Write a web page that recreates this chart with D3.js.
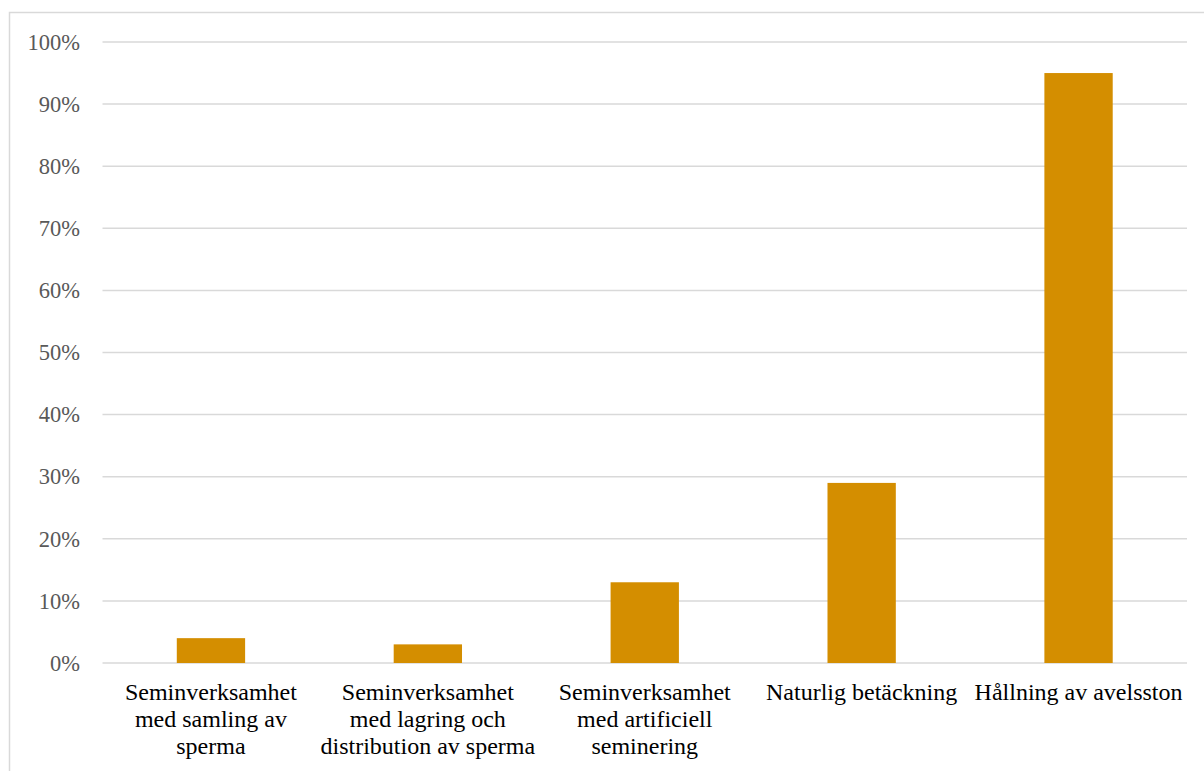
<!DOCTYPE html>
<html><head><meta charset="utf-8">
<script src="https://cdn.jsdelivr.net/npm/d3@7"></script>
<style>html,body{margin:0;padding:0;background:#fff;overflow:hidden}
svg text{font-family:"Liberation Serif","Times New Roman",Tinos,"DejaVu Serif",serif !important}</style>
</head><body>
<svg id="chart" width="1204" height="771"></svg>
<script>
const categories = [
  ["Seminverksamhet", "med samling av", "sperma"],
  ["Seminverksamhet", "med lagring och", "distribution av sperma"],
  ["Seminverksamhet", "med artificiell", "seminering"],
  ["Naturlig betäckning"],
  ["Hållning av avelsston"]
];
const values = [0.04, 0.03, 0.13, 0.29, 0.95];
const tickValues = [0, 0.1, 0.2, 0.3, 0.4, 0.5, 0.6, 0.7, 0.8, 0.9, 1.0];

const svg = d3.select("#chart");

svg.append("rect").attr("x", 9.5).attr("y", 12.5).attr("width", 1210).attr("height", 780)
  .attr("fill", "none").attr("stroke", "#d9d9d9").attr("stroke-width", 1.5);

const x = d3.scaleBand().domain(d3.range(categories.length)).range([102.5, 1187]).paddingInner(0.685).paddingOuter(0.3425);
const y = d3.scaleLinear().domain([0, 1]).range([663, 42]);

const grid = svg.append("g");
grid.selectAll("line").data(tickValues).join("line")
  .attr("x1", 102.5).attr("x2", 1187)
  .attr("y1", d => y(d)).attr("y2", d => y(d))
  .attr("stroke", "#d9d9d9").attr("stroke-width", 1.5);

const yAxis = d3.axisLeft(y).tickValues(tickValues).tickFormat(d3.format(".0%")).tickSize(0).tickPadding(0);
const ya = svg.append("g").attr("transform", "translate(80,0)").call(yAxis);
ya.attr("font-family", null).attr("font-size", null);
ya.select(".domain").remove();
ya.selectAll("text").attr("font-size", 22.5).attr("fill", "#595959");

svg.append("g").selectAll("rect").data(values).join("rect")
  .attr("x", (d, i) => x(i)).attr("width", x.bandwidth())
  .attr("y", d => y(d)).attr("height", d => y(0) - y(d))
  .attr("fill", "#d48e00");

const labels = svg.append("g");
categories.forEach((lines, i) => {
  const cx = x(i) + x.bandwidth() / 2;
  const t = labels.append("text").attr("text-anchor", "middle")
    .attr("font-size", 24).attr("fill", "#000");
  lines.forEach((ln, j) => {
    t.append("tspan").attr("x", cx).attr("y", 700 + j * 27).text(ln);
  });
});
</script>
</body></html>
